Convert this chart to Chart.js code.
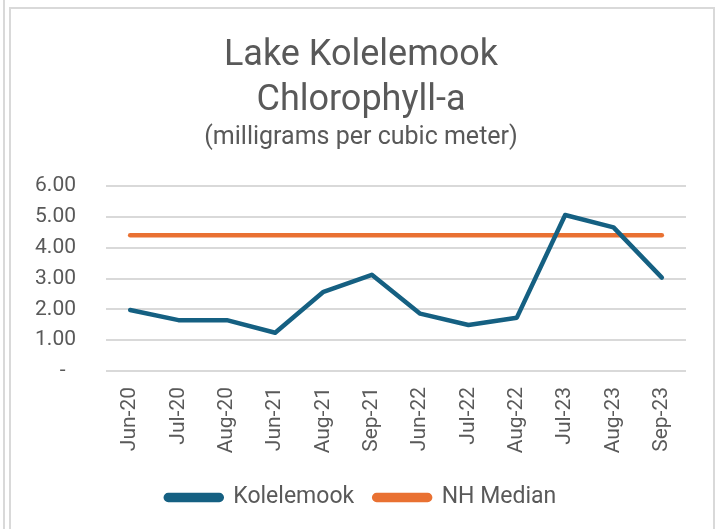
<!DOCTYPE html>
<html>
<head>
<meta charset="utf-8">
<script src="https://cdn.jsdelivr.net/npm/chart.js@4/dist/chart.umd.min.js"></script>
<style>
  html, body { margin: 0; padding: 0; background: #fff; overflow: hidden; }
  body { width: 719px; height: 529px; position: relative; }
  .edge { position: absolute; left: 3px; top: 0; width: 2px; height: 529px; background: #d9d9d9; }
  .box { position: absolute; left: 9px; top: 7px; width: 702px; height: 540px; border: 2px solid #d9d9d9; border-bottom: none; }
  .box canvas { position: absolute; left: 0; top: 0; }
</style>
</head>
<body>
<div class="edge"></div>
<div class="box"><canvas id="chlChart" width="702" height="520"></canvas></div>
<script>
const categories = ['Jun-20', 'Jul-20', 'Aug-20', 'Jun-21', 'Aug-21', 'Sep-21',
                    'Jun-22', 'Jul-22', 'Aug-22', 'Jul-23', 'Aug-23', 'Sep-23'];
const kolelemook = [1.98, 1.65, 1.65, 1.24, 2.57, 3.12, 1.86, 1.49, 1.73, 5.06, 4.66, 3.03];
const nhMedian = [4.4, 4.4, 4.4, 4.4, 4.4, 4.4, 4.4, 4.4, 4.4, 4.4, 4.4, 4.4];
const yTicks = [0, 1, 2, 3, 4, 5, 6];

const FONT = 'Roboto, "Liberation Sans", sans-serif';
const GREY = '#595959';

document.addEventListener('DOMContentLoaded', () => {
    const ctx = document.getElementById('chlChart');

    new Chart(ctx, {
        type: 'line',
        data: {
            labels: categories,
            datasets: [
                {
                    label: 'Kolelemook',
                    data: kolelemook,
                    borderColor: '#156082',
                    backgroundColor: '#156082',
                    borderWidth: 4.5,
                    borderCapStyle: 'round',
                    borderJoinStyle: 'round',
                    pointRadius: 0,
                    tension: 0
                },
                {
                    label: 'NH Median',
                    data: nhMedian,
                    borderColor: '#E97132',
                    backgroundColor: '#E97132',
                    borderWidth: 4.5,
                    borderCapStyle: 'round',
                    pointRadius: 0,
                    tension: 0
                }
            ]
        },
        options: {
            responsive: false,
            animation: false,
            layout: { padding: { left: 17, right: 19, top: 0, bottom: 10 } },
            plugins: {
                title: {
                    display: true,
                    text: ['Lake Kolelemook', 'Chlorophyll-a'],
                    color: GREY,
                    font: { family: FONT, size: 36, weight: 'normal', lineHeight: 1.25 },
                    padding: { top: 24, bottom: 0 }
                },
                subtitle: {
                    display: true,
                    text: '(milligrams per cubic meter)',
                    color: GREY,
                    font: { family: FONT, size: 25, weight: 'normal', lineHeight: 1.2 },
                    padding: { top: 0, bottom: 33 }
                },
                legend: {
                    position: 'bottom',
                    labels: {
                        color: GREY,
                        font: { family: FONT, size: 23 },
                        boxWidth: 56,
                        boxHeight: 5,
                        useBorderRadius: true,
                        borderRadius: 2.5,
                        padding: 20
                    }
                },
                tooltip: { enabled: false }
            },
            scales: {
                x: {
                    offset: true,
                    grid: { display: false },
                    border: { display: false },
                    ticks: {
                        color: GREY,
                        font: { family: FONT, size: 21 },
                        minRotation: 90,
                        maxRotation: 90,
                        autoSkip: false,
                        padding: 8
                    },
                    afterFit: (scale) => { scale.height = 95; }
                },
                y: {
                    min: 0,
                    max: 6,
                    afterBuildTicks: (scale) => { scale.ticks = yTicks.map(v => ({ value: v })); },
                    grid: { color: '#d9d9d9', lineWidth: 2, drawTicks: false },
                    border: { display: false },
                    ticks: {
                        color: GREY,
                        font: { family: FONT, size: 21 },
                        padding: 30,
                        callback: (v) => v === 0 ? '-  ' : v.toFixed(2)
                    },
                    afterFit: (scale) => { scale.width = 78; }
                },
                // empty spacer on the right so the plot ends where the reference does
                spacer: {
                    type: 'linear',
                    position: 'right',
                    grid: { display: false },
                    border: { display: false },
                    ticks: { display: false },
                    afterFit: (scale) => { scale.width = 8; }
                }
            }
        }
    });
});
</script>
</body>
</html>
